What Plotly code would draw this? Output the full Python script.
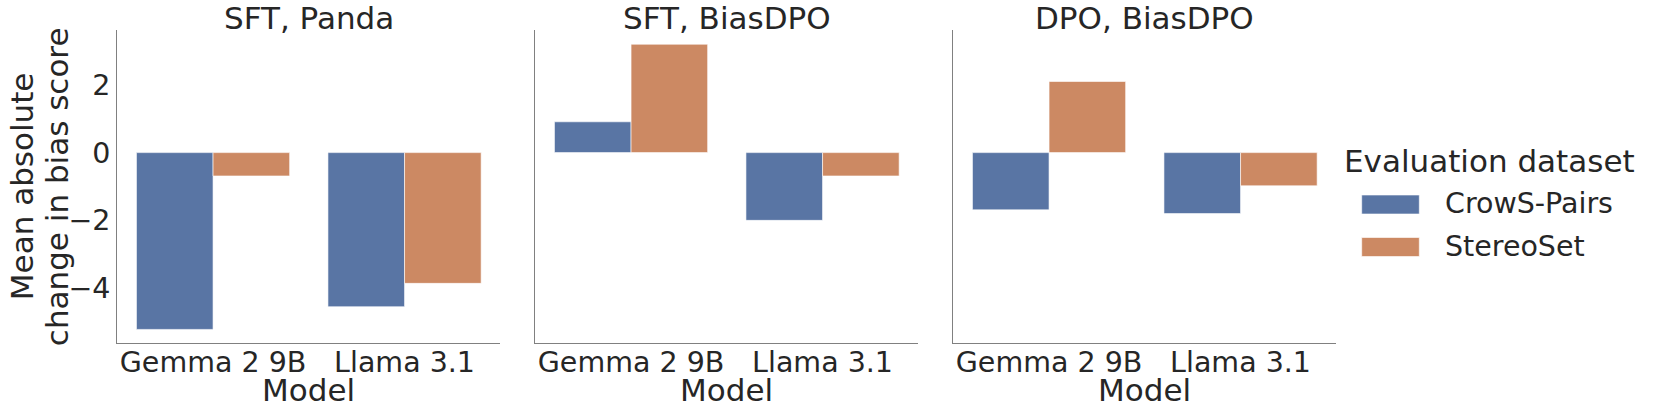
import plotly.graph_objects as go

# ---- data ----
models = ["Gemma 2 9B", "Llama 3.1"]
panels = ["SFT, Panda", "SFT, BiasDPO", "DPO, BiasDPO"]
datasets = ["CrowS-Pairs", "StereoSet"]
crows_values = [[-5.22, -4.55], [0.91, -2.00], [-1.69, -1.80]]
stereo_values = [[-0.69, -3.86], [3.20, -0.69], [2.10, -0.98]]
y_tick_vals = [-4, -2, 0, 2]
y_tick_text = ["\u22124", "\u22122", "0", "2"]
x_title = "Model"
y_title_lines = ["Mean absolute", "change in bias score"]
legend_title = "Evaluation dataset"

# ---- style ----
W, H = 1661, 411
colors = ["#5975a4", "#cc8963"]
text_color = "#262626"
axis_color = "#808080"
font_family = "DejaVu Sans"
label_size = 31
tick_size = 28.5


def px(x):
    return x / W


def py(y):
    return 1 - y / H


panel_lefts = [117.3, 535.3, 953.3]
panel_width = 383.0
y_top, y_bottom = 30.0, 343.3
y_range = [-5.63, 3.62]

fig = go.Figure()
series = [crows_values, stereo_values]
for i in range(len(panels)):
    suffix = "" if i == 0 else str(i + 1)
    for j, ds in enumerate(datasets):
        fig.add_trace(go.Bar(
            x=models, y=series[j][i], name=ds,
            xaxis="x" + suffix, yaxis="y" + suffix,
            offsetgroup=str(j),
            marker=dict(color=colors[j], line=dict(color="rgba(255,255,255,0.6)", width=1)),
            showlegend=False,
        ))

layout = dict(
    width=W, height=H,
    margin=dict(l=0, r=0, t=0, b=0),
    paper_bgcolor="white", plot_bgcolor="white",
    barmode="group", bargap=0.2, bargroupgap=0.0,
    font=dict(family=font_family, color=text_color, size=tick_size),
)

annotations = []
shapes = []
for i, title in enumerate(panels):
    suffix = "" if i == 0 else str(i + 1)
    left = panel_lefts[i]
    layout["xaxis" + suffix] = dict(
        domain=[px(left), px(left + panel_width)],
        anchor="y" + suffix,
        showline=True, linecolor=axis_color, linewidth=1.3,
        showgrid=False, zeroline=False, ticks="",
        ticklabelstandoff=-7,
        tickfont=dict(size=tick_size, color=text_color, family=font_family),
        range=[-0.5, 1.5], type="category",
    )
    layout["yaxis" + suffix] = dict(
        domain=[py(y_bottom), py(y_top)],
        anchor="x" + suffix,
        range=y_range,
        showline=True, linecolor=axis_color, linewidth=1.3,
        showgrid=False, zeroline=False, ticks="",
        tickvals=y_tick_vals, ticktext=y_tick_text,
        showticklabels=(i == 0),
        tickfont=dict(size=tick_size, color=text_color, family=font_family),
    )
    cx = left + panel_width / 2
    annotations.append(dict(
        text=title, x=px(cx), y=py(17.5), xref="paper", yref="paper",
        xanchor="center", yanchor="middle", showarrow=False,
        font=dict(size=label_size, color=text_color, family=font_family),
    ))
    annotations.append(dict(
        text=x_title, x=px(cx), y=py(390), xref="paper", yref="paper",
        xanchor="center", yanchor="middle", showarrow=False,
        font=dict(size=label_size, color=text_color, family=font_family),
    ))

# y-axis title (two lines)
y_center = (y_top + y_bottom) / 2
for k, (line, xc) in enumerate(zip(y_title_lines, [21.5, 56.5])):
    annotations.append(dict(
        text=line, x=px(xc), y=py(y_center), xref="paper", yref="paper",
        xanchor="center", yanchor="middle", showarrow=False, textangle=-90,
        font=dict(size=label_size, color=text_color, family=font_family),
    ))

# legend (drawn manually to match wide patches)
annotations.append(dict(
    text=legend_title, x=px(1341.5), y=py(161), xref="paper", yref="paper",
    xanchor="left", yanchor="middle", showarrow=False,
    font=dict(size=label_size, color=text_color, family=font_family),
))
item_centers = [204.5, 247.0]
for j, ds in enumerate(datasets):
    yc = item_centers[j]
    shapes.append(dict(
        type="rect", xref="paper", yref="paper",
        x0=px(1361.7), x1=px(1419.3), y0=py(yc - 9.5), y1=py(yc + 9.5),
        fillcolor=colors[j], line=dict(color="rgba(255,255,255,0.6)", width=1),
    ))
    annotations.append(dict(
        text=ds, x=px(1443), y=py(yc - 1), xref="paper", yref="paper",
        xanchor="left", yanchor="middle", showarrow=False,
        font=dict(size=tick_size, color=text_color, family=font_family),
    ))

layout["annotations"] = annotations
layout["shapes"] = shapes
fig.update_layout(**layout)
fig.write_html(
    "out.html",
    config={"displayModeBar": False},
    post_script="document.body.style.margin='0';document.body.style.overflow='hidden';",
)
